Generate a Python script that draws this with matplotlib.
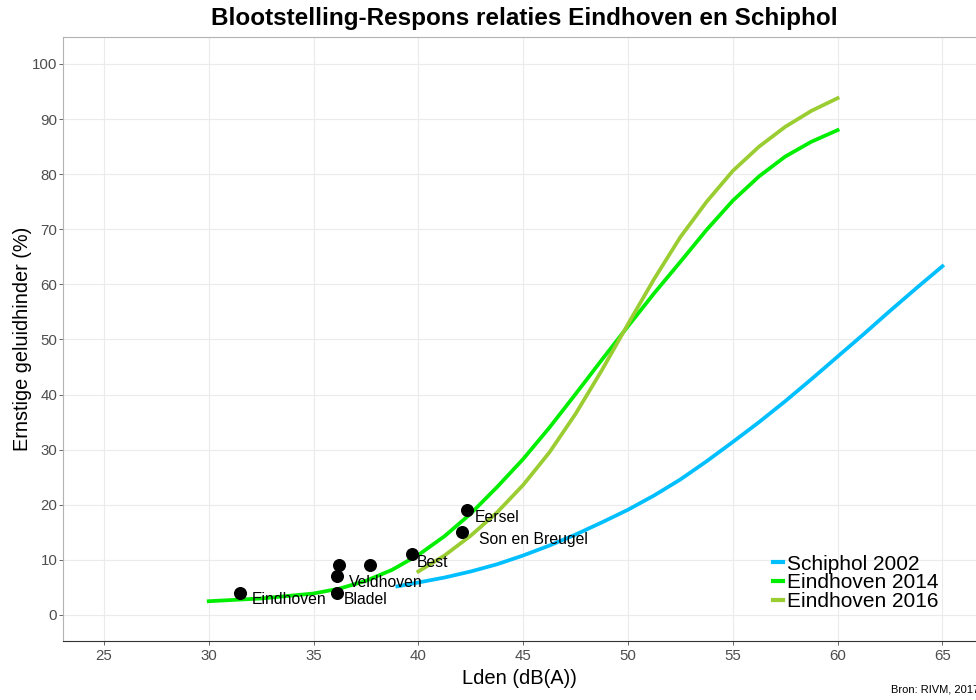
import matplotlib
matplotlib.use("Agg")
import matplotlib.pyplot as plt

# dose-response curves
lden_schiphol = [39, 40, 41.25, 42.5, 43.75, 45, 46.25, 47.5, 48.75, 50, 51.25, 52.5,
                 53.75, 55, 56.25, 57.5, 58.75, 60, 61.25, 62.5, 63.75, 65]
eh_schiphol = [5.2, 5.9, 6.8, 7.9, 9.2, 10.8, 12.6, 14.6, 16.8, 19.1, 21.7, 24.6,
               27.9, 31.4, 35.0, 38.8, 42.8, 46.9, 51.0, 55.2, 59.3, 63.3]

lden_2014 = [30, 32.5, 35, 36.25, 37.5, 38.75, 40, 41.25, 42.5, 43.75, 45, 46.25,
             47.5, 48.75, 50, 51.25, 52.5, 53.75, 55, 56.25, 57.5, 58.75, 60]
eh_2014 = [2.5, 3.0, 3.9, 4.8, 6.2, 8.2, 10.9, 14.3, 18.4, 23.2, 28.3, 34.0,
           40.1, 46.3, 52.4, 58.4, 64.1, 69.9, 75.2, 79.6, 83.2, 85.9, 88.0]

lden_2016 = [40, 41.25, 42.5, 43.75, 45, 46.25, 47.5, 48.75, 50, 51.25, 52.5,
             53.75, 55, 56.25, 57.5, 58.75, 60]
eh_2016 = [7.9, 10.8, 14.4, 18.6, 23.6, 29.5, 36.5, 44.4, 52.8, 61.0, 68.6,
           75.0, 80.6, 85.0, 88.6, 91.5, 93.8]

# survey locations
loc_names = ["Eindhoven", "Bladel", "Veldhoven", "", "", "Best", "Son en Breugel", "Eersel"]
loc_lden = [31.5, 36.1, 36.1, 36.2, 37.7, 39.7, 42.1, 42.3]
loc_eh = [4, 4, 7, 9, 9, 11, 15, 19]
# label offsets in pixels
loc_dx = [12, 7, 12, 0, 0, 5, 17, 8]
loc_dy = [-7, -7, -6, 0, 0, -8, -7, -7]

series_names = ["Schiphol 2002", "Eindhoven 2014", "Eindhoven 2016"]
series_colors = ["#00BFFF", "#00EE00", "#9ACD32"]

plt.rcParams['font.family'] = ['Liberation Sans', 'DejaVu Sans']

fig = plt.figure(figsize=(9.76, 7.0), dpi=100)
ax = fig.add_axes([63 / 976, 1 - 641 / 700, 1 - 63 / 976, (641 - 37) / 700])

ax.plot(lden_schiphol, eh_schiphol, color=series_colors[0], lw=2.7, label=series_names[0], zorder=3)
ax.plot(lden_2014, eh_2014, color=series_colors[1], lw=2.7, label=series_names[1], zorder=3)
ax.plot(lden_2016, eh_2016, color=series_colors[2], lw=2.7, label=series_names[2], zorder=3)

ax.scatter(loc_lden, loc_eh, s=70, color="black", zorder=4)
for name, x, y, dx, dy in zip(loc_names, loc_lden, loc_eh, loc_dx, loc_dy):
    if name:
        ax.annotate(name, (x, y), xytext=(dx, dy), textcoords="offset pixels",
                    ha="left", va="center", fontsize=11.3, color="black", zorder=5)

ax.set_xlim(23.05, 66.6)
ax.set_ylim(-4.72, 104.9)
ax.set_xticks(range(25, 66, 5))
ax.set_yticks(range(0, 101, 10))
ax.grid(True, color="#EBEBEB", lw=0.8)
ax.set_axisbelow(True)
ax.tick_params(colors="#4D4D4D", labelsize=10.8, length=2.9, width=0.6)
ax.tick_params(axis="y", pad=1.2)
ax.tick_params(axis="x", pad=3)

ax.spines["right"].set_visible(False)
ax.spines["top"].set_color("#B3B3B3")
ax.spines["left"].set_color("#B3B3B3")
ax.spines["bottom"].set_color("#333333")

ax.set_xlabel("Lden (dB(A))", fontsize=14.5, labelpad=4)
ax.set_ylabel("Ernstige geluidhinder (%)", fontsize=14.3, labelpad=0)

leg = ax.legend(loc="upper left", bbox_to_anchor=(0.778, 0.143), frameon=False,
                fontsize=15, handlelength=0.45, handletextpad=0.2,
                labelspacing=-0.02, borderpad=0, borderaxespad=0)
for line in leg.get_lines():
    line.set_linewidth(3)

fig.text(524.5 / 976, 1 - 19 / 700, "Blootstelling-Respons relaties Eindhoven en Schiphol",
         ha="center", va="center", fontsize=17.5, fontweight="bold")
fig.text(891 / 976, 1 - 690 / 700, "Bron: RIVM, 2017", ha="left", va="center", fontsize=8)

fig.savefig("out.png", dpi=100)
